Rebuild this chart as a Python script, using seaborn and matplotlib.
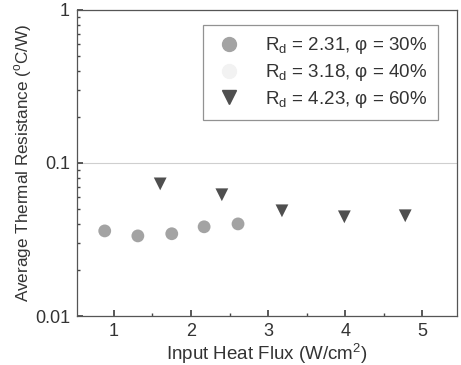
import matplotlib
matplotlib.use("Agg")
import matplotlib.pyplot as plt
from matplotlib.lines import Line2D
from matplotlib.ticker import LogLocator, FixedLocator, NullFormatter
import pandas as pd
import seaborn as sns

# series
flux_a = [0.88, 1.31, 1.75, 2.17, 2.61]
res_a = [0.036, 0.0334, 0.0345, 0.0383, 0.040]
flux_c = [1.60, 2.40, 3.18, 3.99, 4.78]
res_c = [0.073, 0.062, 0.0487, 0.0445, 0.0452]
labels = [r"R$_\mathrm{d}$ = 2.31, φ = 30%",
          r"R$_\mathrm{d}$ = 3.18, φ = 40%",
          r"R$_\mathrm{d}$ = 4.23, φ = 60%"]
colors = ["#a3a3a3", "#f2f2f2", "#4f4f4f"]
markers = ["o", "o", "v"]

df = pd.DataFrame({
    "flux": flux_a + flux_c,
    "res": res_a + res_c,
    "case": [labels[0]] * len(flux_a) + [labels[2]] * len(flux_c),
})

sns.set_theme(style="ticks")
plt.rcParams["font.family"] = ["Liberation Sans", "DejaVu Sans"]
plt.rcParams["mathtext.fontset"] = "custom"
plt.rcParams["mathtext.rm"] = "Liberation Sans"

fig, ax = plt.subplots(figsize=(4.61, 3.65), dpi=100)
fig.subplots_adjust(left=0.167, right=0.991, top=0.973, bottom=0.134)

sns.scatterplot(data=df, x="flux", y="res", hue="case", style="case",
                hue_order=[labels[0], labels[2]],
                palette={labels[0]: colors[0], labels[2]: colors[2]},
                markers={labels[0]: "o", labels[2]: "v"},
                s=85, linewidth=0, legend=False, ax=ax)

ax.set_yscale("log")
ax.set_ylim(0.01, 1)
ax.set_xlim(0.52, 5.45)
ax.xaxis.set_major_locator(FixedLocator([1, 2, 3, 4, 5]))
ax.xaxis.set_minor_locator(FixedLocator([1.5, 2.5, 3.5, 4.5]))
ax.set_yticks([0.01, 0.1, 1])
ax.set_yticklabels(["0.01", "0.1", "1"])
ax.yaxis.set_minor_locator(LogLocator(base=10, subs=range(2, 10)))
ax.yaxis.set_minor_formatter(NullFormatter())
ax.tick_params(which="both", direction="in", colors="#444444",
               labelcolor="#333333", labelsize=13)
ax.tick_params(which="major", length=4, pad=5)
ax.tick_params(which="minor", length=2)
ax.yaxis.grid(True, which="major", color="#cfcfcf", lw=0.8)
for sp in ax.spines.values():
    sp.set_color("#555555")
    sp.set_linewidth(0.9)

ax.set_xlabel("Input Heat Flux (W/cm$^2$)", fontsize=13.5, color="#333333",
              labelpad=1)
ax.set_ylabel("Average Thermal Resistance ($^\\mathrm{o}$C/W)", fontsize=12.3,
              color="#333333", labelpad=1)

handles = [Line2D([], [], ls="none", marker=m, color=c, markersize=10)
           for m, c in zip(markers, colors)]
leg = ax.legend(handles, labels, loc="upper right",
                bbox_to_anchor=(0.95, 0.95), fontsize=13.5,
                frameon=True, fancybox=False, handlelength=1.6,
                handletextpad=1.15, labelspacing=0.3, borderpad=0.55,
                borderaxespad=0, labelcolor="#333333")
leg.get_frame().set_edgecolor("#777777")
leg.get_frame().set_linewidth(0.9)

fig.savefig("out.png", dpi=100)
